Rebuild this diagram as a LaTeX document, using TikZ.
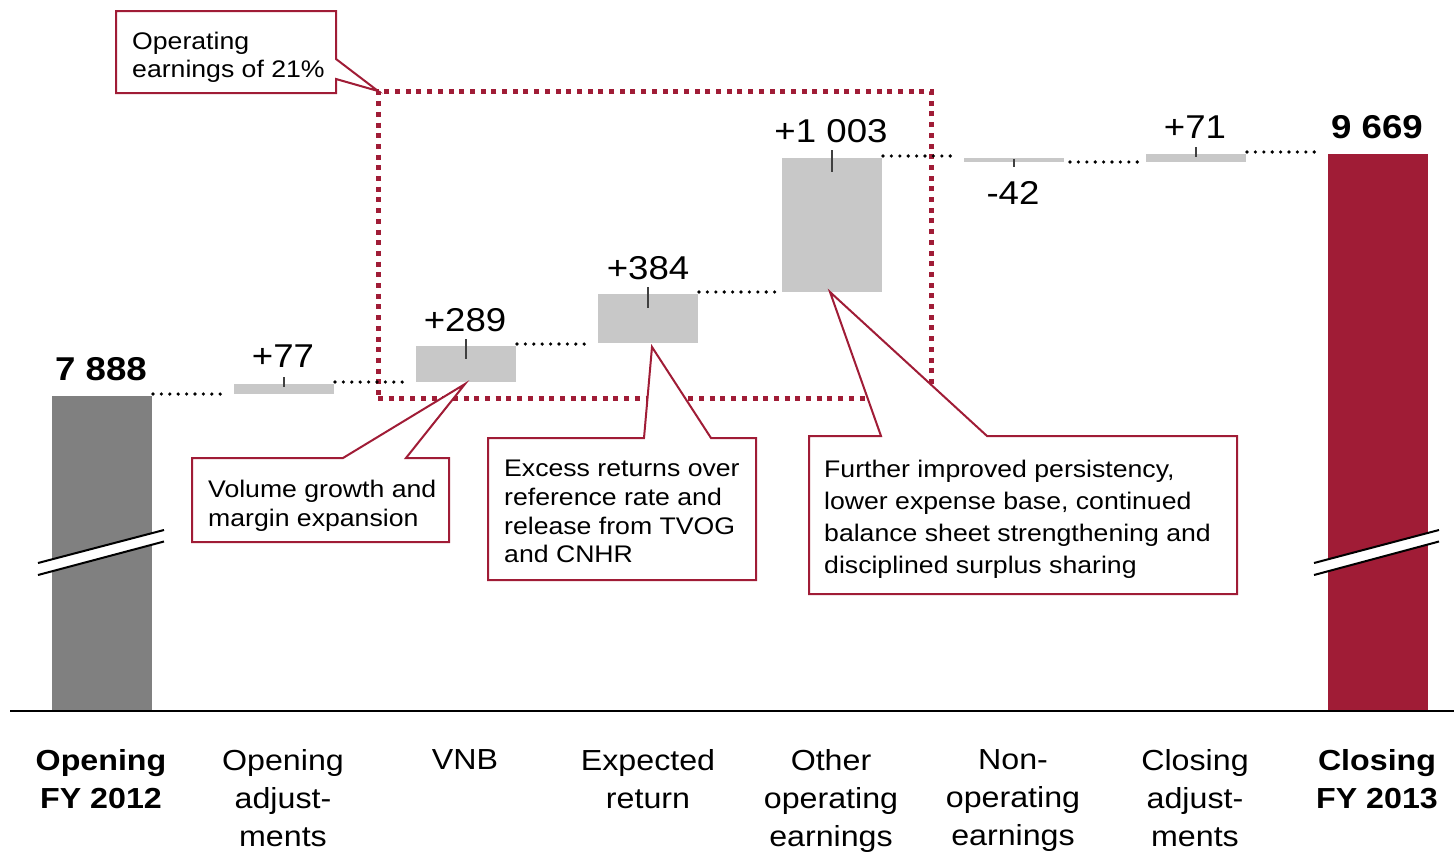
\documentclass[tikz,border=0pt]{standalone}
\usepackage{fontspec}
\setmainfont{Liberation Sans}[FakeStretch=1.11]
\usetikzlibrary{calc}
\definecolor{barDark}{RGB}{128,128,128}
\definecolor{barLight}{RGB}{200,200,200}
\definecolor{crimson}{RGB}{160,28,54}
\definecolor{tickGray}{RGB}{64,64,64}
\begin{document}
\begin{tikzpicture}[x=1pt,y=-1pt,
  bar/.style={inner sep=0pt, outer sep=0pt, minimum width=100pt, anchor=north west, draw=none},
  valnum/.style={anchor=base, inner sep=0pt, font=\fontsize{33}{38}\selectfont},
  catlabel/.style={anchor=north, inner sep=0pt, align=center, font=\fontsize{29}{38}\selectfont},
  note/.style={anchor=north west, inner sep=0pt, align=left},
  callout/.style={draw=crimson, line width=2pt, fill=white, line join=miter},
  dotline/.style={line width=3.6pt, line cap=round, dash pattern=on 0pt off 8.4pt},
  tickmark/.style={draw=tickGray, line width=1.6pt},
  breakline/.style={line width=2pt}
]
\useasboundingbox (0,0) rectangle (1454,852);

% ---- bars of the waterfall ----
\node[bar, fill=barDark,  minimum height=314pt] (b1) at (52,396) {};
\node[bar, fill=barLight, minimum height=9.5pt] (b2) at (234,384) {};
\node[bar, fill=barLight, minimum height=36pt]  (b3) at (416,346) {};
\node[bar, fill=barLight, minimum height=49pt]  (b4) at (598,294) {};
\node[bar, fill=barLight, minimum height=134pt] (b5) at (782,158) {};
\node[bar, fill=barLight, minimum height=4pt]   (b6) at (964,158) {};
\node[bar, fill=barLight, minimum height=8pt]   (b7) at (1146,154) {};
\node[bar, fill=crimson,  minimum height=556pt] (b8) at (1328,154) {};

% ---- axis break marks on the two totals ----
\fill[white] (38,563) -- (164,530) -- (164,541.5) -- (38,575) -- cycle;
\draw[breakline] (38,563) -- (164,530);
\draw[breakline] (38,575) -- (164,541.5);
\fill[white] (1314,563) -- (1439,530) -- (1439,541.5) -- (1314,575) -- cycle;
\draw[breakline] (1314,563) -- (1439,530);
\draw[breakline] (1314,575) -- (1439,541.5);

% ---- base line ----
\coordinate (axisL) at (10,711);
\coordinate (axisR) at (1454,711);
\draw[line width=1.8pt] (axisL) -- (axisR);

% ---- value markers ----
\draw[tickmark] ([yshift=7pt]b2.north)  -- ([yshift=-3pt]b2.north);
\draw[tickmark] ([yshift=7pt]b3.north)  -- ([yshift=-13pt]b3.north);
\draw[tickmark] ([yshift=7pt]b4.north)  -- ([yshift=-14pt]b4.north);
\draw[tickmark] ([yshift=8pt]b5.north)  -- ([yshift=-14pt]b5.north);
\draw[tickmark] ([yshift=-1pt]b6.north) -- ([yshift=-9pt]b6.north);
\draw[tickmark] ([yshift=7pt]b7.north)  -- ([yshift=-3pt]b7.north);

% ---- operating earnings frame ----
\node[draw=crimson, line width=5pt, dash pattern=on 5pt off 5.7pt,
      inner sep=0pt, outer sep=0pt, minimum width=553pt, minimum height=307pt,
      anchor=north west] (opbox) at (378,91) {};

% ---- dotted links between bars ----
\draw[dotline] ([xshift=1pt,yshift=2pt]b1.north east) -- ([xshift=-6pt,yshift=2pt]b1.north east -| b2.west);
\draw[dotline] ([xshift=1pt,yshift=2pt]b2.north east) -- ([xshift=-6pt,yshift=2pt]b2.north east -| b3.west);
\draw[dotline] ([xshift=1pt,yshift=2pt]b3.north east) -- ([xshift=-6pt,yshift=2pt]b3.north east -| b4.west);
\draw[dotline] ([xshift=1pt,yshift=2pt]b4.north east) -- ([xshift=-6pt,yshift=2pt]b4.north east -| b5.west);
\draw[dotline] ([xshift=1pt,yshift=2pt]b5.north east) -- ([xshift=-6pt,yshift=2pt]b5.north east -| b6.west);
\draw[dotline] ([xshift=6pt]b6.south east) -- ([xshift=-6pt]b6.south east -| b7.west);
\draw[dotline] ([xshift=1pt,yshift=2pt]b7.north east) -- ([xshift=-6pt,yshift=2pt]b7.north east -| b8.west);

% ---- callouts ----
\draw[callout] (116,11) -- (336,11) -- (336,59) -- (opbox.north west) -- (336,79)
  -- (336,93) -- (116,93) -- cycle;
\draw[callout] (192,458) -- (343,458) -- (465,384) -- (406,458) -- (449,458)
  -- (449,542) -- (192,542) -- cycle;
\draw[callout] (488,438) -- (644,438) -- (652,347) -- (711,438) -- (756,438)
  -- (756,580) -- (488,580) -- cycle;
\draw[callout] (809,436) -- (881,436) -- (830,292) -- (987,436) -- (1237,436)
  -- (1237,594) -- (809,594) -- cycle;

\node[note, font=\fontsize{24}{28}\selectfont] (n1) at (132,31.5)
  {Operating\\earnings of 21\%};
\node[note, font=\fontsize{24}{29}\selectfont] (n2) at (208,479.8)
  {Volume growth and\\margin expansion};
\node[note, font=\fontsize{24}{28.8}\selectfont] (n3) at (504,459.8)
  {Excess returns over\\reference rate and\\release from TVOG\\and CNHR};
\node[note, font=\fontsize{24}{32.2}\selectfont] (n4) at (824,459.5)
  {Further improved persistency,\\lower expense base, continued\\balance sheet strengthening and\\disciplined surplus sharing};

% ---- values ----
\node[valnum, font=\fontsize{33}{38}\selectfont\bfseries] (v1) at (101,380) {7 888};
\node[valnum] (v2) at (283,367) {+77};
\node[valnum] (v3) at (465,331) {+289};
\node[valnum] (v4) at (648,279) {+384};
\node[valnum] (v5) at (831,142) {+1 003};
\node[valnum] (v6) at (1013,204) {-42};
\node[valnum] (v7) at (1195,138) {+71};
\node[valnum, font=\fontsize{33}{38}\selectfont\bfseries] (v8) at (1377,138) {9 669};

% ---- category labels ----
\node[catlabel, font=\fontsize{29}{38}\selectfont\bfseries] (c1) at (101,749.5) {Opening\\FY 2012};
\node[catlabel] (c2) at (283,749.5) {Opening\\adjust-\\ments};
\node[catlabel] (c3) at (465,749.5) {VNB};
\node[catlabel] (c4) at (648,749.5) {Expected\\return};
\node[catlabel] (c5) at (831,749.5) {Other\\operating\\earnings};
\node[catlabel] (c6) at (1013,749.5) {Non-\\operating\\earnings};
\node[catlabel] (c7) at (1195,749.5) {Closing\\adjust-\\ments};
\node[catlabel, font=\fontsize{29}{38}\selectfont\bfseries] (c8) at (1377,749.5) {Closing\\FY 2013};
\end{tikzpicture}
\end{document}
